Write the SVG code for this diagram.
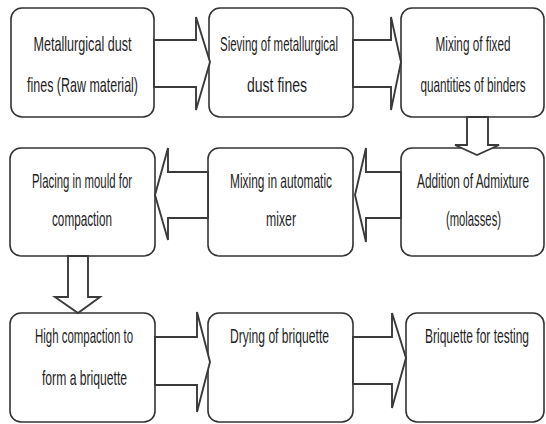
<svg xmlns="http://www.w3.org/2000/svg" width="546" height="424" viewBox="0 0 546 424">
<style>
.box{fill:#fff;stroke:#333;stroke-width:1.6}
.arr{fill:#fff;stroke:#3a3a3a;stroke-width:1.9;stroke-linejoin:miter}
text{font-family:"Liberation Sans",Arial,sans-serif;font-size:15px;fill:#1e1e1e;text-anchor:middle}
</style>
<rect width="546" height="424" fill="#fff"/>
<g id="n1"><rect class="box" x="11" y="8" width="143" height="109" rx="11"/>
<text transform="matrix(1 0 0 1.4 82.5 51)" textLength="98" lengthAdjust="spacingAndGlyphs">Metallurgical dust</text>
<text transform="matrix(1 0 0 1.4 82.5 92)" textLength="111" lengthAdjust="spacingAndGlyphs">fines (Raw material)</text></g>
<g id="n2"><rect class="box" x="209" y="8" width="144" height="109" rx="11"/>
<text transform="matrix(1 0 0 1.4 279 51)" textLength="118" lengthAdjust="spacingAndGlyphs">Sieving of metallurgical</text>
<text transform="matrix(1 0 0 1.4 277 92)" textLength="60" lengthAdjust="spacingAndGlyphs">dust fines</text></g>
<g id="n3"><rect class="box" x="401" y="8" width="143" height="109" rx="11"/>
<text transform="matrix(1 0 0 1.4 473 51)" textLength="75" lengthAdjust="spacingAndGlyphs">Mixing of fixed</text>
<text transform="matrix(1 0 0 1.4 473 92)" textLength="105" lengthAdjust="spacingAndGlyphs">quantities of binders</text></g>
<g id="n4"><rect class="box" x="10" y="148" width="145" height="108" rx="11"/>
<text transform="matrix(1 0 0 1.4 82 188)" textLength="100" lengthAdjust="spacingAndGlyphs">Placing in mould for</text>
<text transform="matrix(1 0 0 1.4 82 226)" textLength="60" lengthAdjust="spacingAndGlyphs">compaction</text></g>
<g id="n5"><rect class="box" x="208" y="148" width="145" height="108" rx="11"/>
<text transform="matrix(1 0 0 1.4 281 188)" textLength="102" lengthAdjust="spacingAndGlyphs">Mixing in automatic</text>
<text transform="matrix(1 0 0 1.4 281 226)" textLength="30" lengthAdjust="spacingAndGlyphs">mixer</text></g>
<g id="n6"><rect class="box" x="401" y="148" width="143" height="108" rx="11"/>
<text transform="matrix(1 0 0 1.4 473 188)" textLength="112" lengthAdjust="spacingAndGlyphs">Addition of Admixture</text>
<text transform="matrix(1 0 0 1.4 473.5 226)" textLength="55" lengthAdjust="spacingAndGlyphs">(molasses)</text></g>
<g id="n7"><rect class="box" x="10" y="313" width="145" height="109" rx="11"/>
<text transform="matrix(1 0 0 1.4 84 343)" textLength="98" lengthAdjust="spacingAndGlyphs">High compaction to</text>
<text transform="matrix(1 0 0 1.4 84.5 385)" textLength="85" lengthAdjust="spacingAndGlyphs">form a briquette</text></g>
<g id="n8"><rect class="box" x="208" y="313" width="145" height="109" rx="11"/>
<text transform="matrix(1 0 0 1.4 279.5 343)" textLength="99" lengthAdjust="spacingAndGlyphs">Drying of briquette</text></g>
<g id="n9"><rect class="box" x="406" y="313" width="138" height="109" rx="11"/>
<text transform="matrix(1 0 0 1.4 477 343)" textLength="104" lengthAdjust="spacingAndGlyphs">Briquette for testing</text></g>
<g id="connectors">
<polygon class="arr" points="154,40 196,40 196,17 210,62 196,110 196,87 154,87"/>
<polygon class="arr" points="353,40 391,40 391,17 401,62 391,110 391,87 353,87"/>
<polygon class="arr" points="467,117 488,117 488,145 499,145 477,155 455,145 467,145"/>
<polygon class="arr" points="401,172 366,172 366,148 355,195 366,242 366,218 401,218"/>
<polygon class="arr" points="208,172 168,172 168,148 155,195 168,240 168,218 208,218"/>
<polygon class="arr" points="68,256 88,256 88,297 100,297 78,313 55,297 68,297"/>
<polygon class="arr" points="155,337 197,337 197,312 210,362 197,412 197,385 155,385"/>
<polygon class="arr" points="353,337 392,337 392,313 406,358 392,408 392,384 353,384"/>
</g>
</svg>
